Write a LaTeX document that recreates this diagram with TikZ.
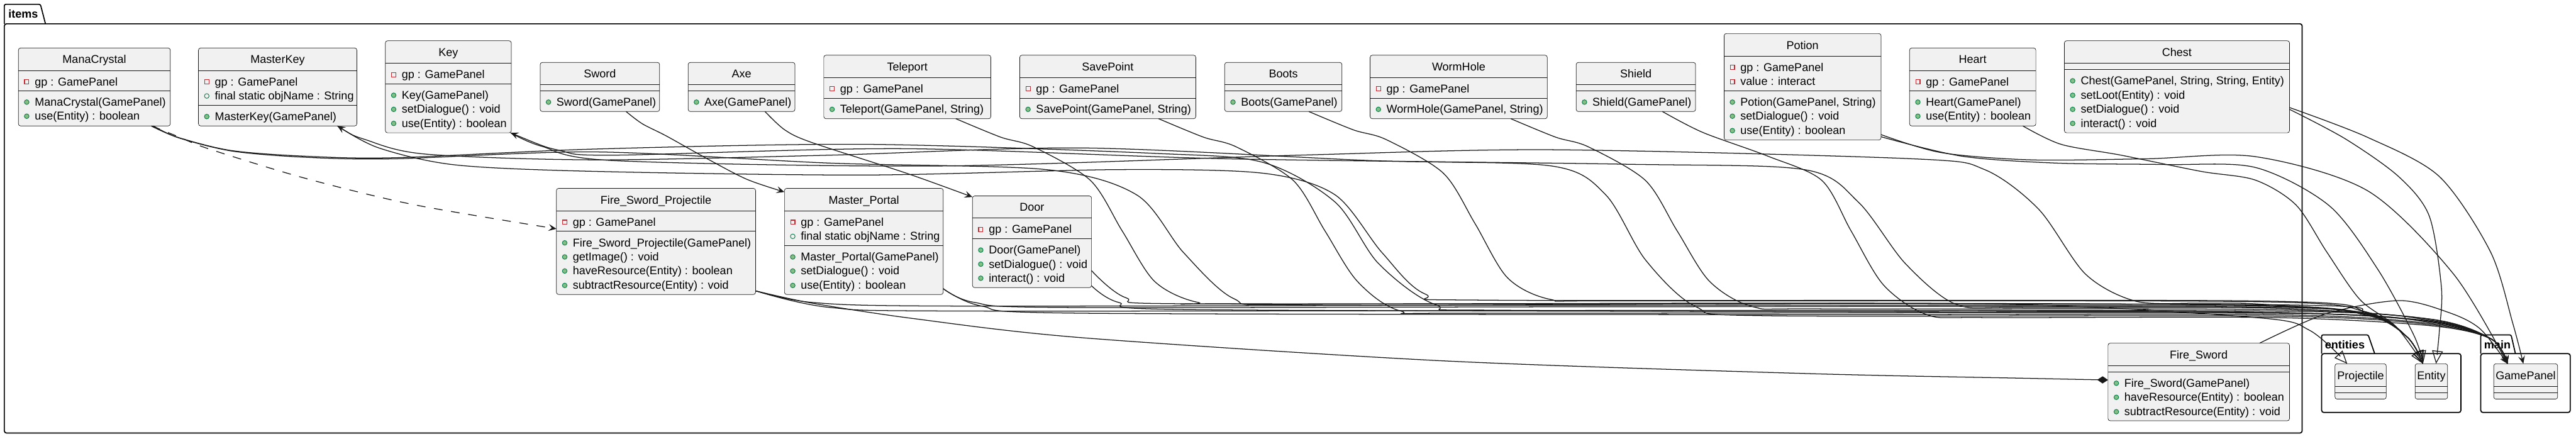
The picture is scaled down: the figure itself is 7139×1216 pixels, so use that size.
\documentclass[tikz,border=0pt]{standalone}
\usepackage{fontspec}
\setmainfont{Liberation Sans}
\usetikzlibrary{arrows.meta,calc,fit}
\definecolor{boxfill}{HTML}{F1F1F1}
\definecolor{boxline}{HTML}{181818}
\definecolor{privred}{HTML}{C82930}
\definecolor{pubfill}{HTML}{84BE84}
\definecolor{publine}{HTML}{038048}
\definecolor{edgecol}{HTML}{181818}
\newcommand\umlfont{\fontsize{15.7pt}{18pt}\selectfont}
\tikzset{
  cbox/.style={draw=boxline, fill=boxfill, line width=0.6pt, rounded corners=3pt, inner sep=0pt, outer sep=0pt},
  csep/.style={draw=boxline, line width=0.6pt},
  ctitle/.style={anchor=base, inner sep=0pt, font=\umlfont},
  mtext/.style={anchor=base west, inner sep=0pt, font=\umlfont},
  privicon/.style={rectangle, draw=privred, line width=1pt, minimum size=6pt, inner sep=0pt},
  pmicon/.style={circle, draw=publine, fill=pubfill, line width=0.8pt, minimum size=6.5pt, inner sep=0pt},
  pficon/.style={circle, draw=publine, line width=0.8pt, minimum size=6.5pt, inner sep=0pt},
  pkgline/.style={draw=black, line width=1.5pt},
  pkglabel/.style={anchor=base west, inner sep=0pt, font=\umlfont\bfseries},
  edge/.style={draw=edgecol, line width=1.1pt},
  ext/.style={edge, -{Triangle[open, length=18pt, width=15pt]}},
  assoc/.style={edge, -{Stealth[length=11pt, width=9.5pt, inset=4.5pt]}},
  assocback/.style={edge, {Stealth[length=11pt, width=9.5pt, inset=4.5pt]}-},
  depend/.style={edge, dash pattern=on 12pt off 12pt, -{Stealth[length=11pt, width=9.5pt, inset=4.5pt]}},
  compo/.style={edge, -{Diamond[length=15pt, width=10pt]}}
}
\newcommand\umlclass[8]{%
  \node[cbox, fit={(#2,#3) (#4,#5)}] (#1) {};
  \draw[csep] (#2,#6) -- (#4,#6);
  \draw[csep] (#2,#7) -- (#4,#7);
  \node[ctitle] (#1-title) at ({(#2+#4)/2},{(#3+#6)/2+12}) {#8};
}
\newcommand\umlpriv[4]{%
  \node[privicon] (#1-i) at ({#2+23},#3) {};
  \node[mtext] (#1) at ({#2+45},{#3+10.5}) {#4};
}
\newcommand\umlmeth[4]{%
  \node[pmicon] (#1-i) at ({#2+23},#3) {};
  \node[mtext] (#1) at ({#2+45},{#3+10.5}) {#4};
}
\newcommand\umlfld[4]{%
  \node[pficon] (#1-i) at ({#2+23},#3) {};
  \node[mtext] (#1) at ({#2+45},{#3+10.5}) {#4};
}
\begin{document}
\begin{tikzpicture}[x=0.5pt,y=-0.5pt]
\useasboundingbox (0,0) rectangle (7139,1216);
\fill[white] (0,0) rectangle (7139,1216);
% ---------- packages
\draw[pkgline, rounded corners=2pt] (12,66) -- (12,12) -- (112,12) -- (126,66);
\draw[pkgline, rounded corners=3pt] (12,66) rectangle (6380,1200);
\node[pkglabel] (pkg-items) at (23,50) {items};
\draw[pkgline, rounded corners=2pt] (6434,980) -- (6434,928) -- (6563,928) -- (6581,980);
\draw[pkgline, rounded corners=3pt] (6434,980) rectangle (6820,1143);
\node[pkglabel] (pkg-entities) at (6443,966) {entities};
\draw[pkgline, rounded corners=2pt] (6875,980) -- (6875,928) -- (6959,928) -- (6971,980);
\draw[pkgline, rounded corners=3pt] (6875,980) rectangle (7123,1143);
\node[pkglabel] (pkg-main) at (6884,966) {main};
% ---------- classes, top row
\umlclass{MC}{51}{133}{472}{349}{195}{252}{ManaCrystal}
\umlpriv{MC-a1}{51}{227}{gp : GamePanel}
\umlmeth{MC-m1}{51}{283}{ManaCrystal(GamePanel)}
\umlmeth{MC-m2}{51}{322}{use(Entity) : boolean}

\umlclass{MK}{550}{133}{989}{349}{195}{292}{MasterKey}
\umlpriv{MK-a1}{550}{227}{gp : GamePanel}
\umlfld{MK-a2}{550}{266}{final static objName : String}
\umlmeth{MK-m1}{550}{323}{MasterKey(GamePanel)}

\umlclass{Key}{1068}{113}{1417}{368}{175}{233}{Key}
\umlpriv{Key-a1}{1068}{207}{gp : GamePanel}
\umlmeth{Key-m1}{1068}{264}{Key(GamePanel)}
\umlmeth{Key-m2}{1068}{303}{setDialogue() : void}
\umlmeth{Key-m3}{1068}{342}{use(Entity) : boolean}

\umlclass{Sword}{1497}{173}{1828}{309}{235}{252}{Sword}
\umlmeth{Sword-m1}{1497}{283}{Sword(GamePanel)}

\umlclass{Axe}{1907}{173}{2203}{309}{235}{252}{Axe}
\umlmeth{Axe-m1}{1907}{283}{Axe(GamePanel)}

\umlclass{Teleport}{2283}{153}{2746}{329}{215}{272}{Teleport}
\umlpriv{Teleport-a1}{2283}{246}{gp : GamePanel}
\umlmeth{Teleport-m1}{2283}{303}{Teleport(GamePanel, String)}

\umlclass{SavePoint}{2826}{153}{3314}{329}{215}{272}{SavePoint}
\umlpriv{SavePoint-a1}{2826}{246}{gp : GamePanel}
\umlmeth{SavePoint-m1}{2826}{303}{SavePoint(GamePanel, String)}

\umlclass{Boots}{3394}{173}{3719}{309}{235}{252}{Boots}
\umlmeth{Boots-m1}{3394}{283}{Boots(GamePanel)}

\umlclass{WormHole}{3797}{153}{4288}{329}{215}{272}{WormHole}
\umlpriv{WormHole-a1}{3797}{246}{gp : GamePanel}
\umlmeth{WormHole-m1}{3797}{303}{WormHole(GamePanel, String)}

\umlclass{Shield}{4368}{173}{4699}{309}{235}{252}{Shield}
\umlmeth{Shield-m1}{4368}{283}{Shield(GamePanel)}

\umlclass{Potion}{4778}{93}{5213}{388}{155}{252}{Potion}
\umlpriv{Potion-a1}{4778}{187}{gp : GamePanel}
\umlpriv{Potion-a2}{4778}{226}{value : interact}
\umlmeth{Potion-m1}{4778}{283}{Potion(GamePanel, String)}
\umlmeth{Potion-m2}{4778}{322}{setDialogue() : void}
\umlmeth{Potion-m3}{4778}{362}{use(Entity) : boolean}

\umlclass{Heart}{5292}{133}{5642}{349}{195}{252}{Heart}
\umlpriv{Heart-a1}{5292}{227}{gp : GamePanel}
\umlmeth{Heart-m1}{5292}{283}{Heart(GamePanel)}
\umlmeth{Heart-m2}{5292}{322}{use(Entity) : boolean}

\umlclass{Chest}{5721}{113}{6345}{368}{175}{193}{Chest}
\umlmeth{Chest-m1}{5721}{224}{Chest(GamePanel, String, String, Entity)}
\umlmeth{Chest-m2}{5721}{264}{setLoot(Entity) : void}
\umlmeth{Chest-m3}{5721}{303}{setDialogue() : void}
\umlmeth{Chest-m4}{5721}{342}{interact() : void}
% ---------- classes, lower row
\umlclass{FSP}{1542}{522}{2094}{816}{584}{641}{Fire\_Sword\_Projectile}
\umlpriv{FSP-a1}{1542}{616}{gp : GamePanel}
\umlmeth{FSP-m1}{1542}{673}{Fire\_Sword\_Projectile(GamePanel)}
\umlmeth{FSP-m2}{1542}{712}{getImage() : void}
\umlmeth{FSP-m3}{1542}{751}{haveResource(Entity) : boolean}
\umlmeth{FSP-m4}{1542}{791}{subtractResource(Entity) : void}

\umlclass{MP}{2174}{522}{2614}{816}{584}{680}{Master\_Portal}
\umlpriv{MP-a1}{2174}{616}{gp : GamePanel}
\umlfld{MP-a2}{2174}{655}{final static objName : String}
\umlmeth{MP-m1}{2174}{712}{Master\_Portal(GamePanel)}
\umlmeth{MP-m2}{2174}{751}{setDialogue() : void}
\umlmeth{MP-m3}{2174}{791}{use(Entity) : boolean}

\umlclass{Door}{2695}{543}{3025}{797}{604}{661}{Door}
\umlpriv{Door-a1}{2695}{636}{gp : GamePanel}
\umlmeth{Door-m1}{2695}{693}{Door(GamePanel)}
\umlmeth{Door-m2}{2695}{732}{setDialogue() : void}
\umlmeth{Door-m3}{2695}{771}{interact() : void}

\umlclass{FS}{5842}{951}{6345}{1166}{1013}{1030}{Fire\_Sword}
\umlmeth{FS-m1}{5842}{1062}{Fire\_Sword(GamePanel)}
\umlmeth{FS-m2}{5842}{1101}{haveResource(Entity) : boolean}
\umlmeth{FS-m3}{5842}{1141}{subtractResource(Entity) : void}
% ---------- other packages
\umlclass{Projectile}{6471}{1008}{6613}{1106}{1071}{1088}{Projectile}
\umlclass{Entity}{6693}{1008}{6783}{1106}{1071}{1088}{Entity}
\umlclass{GamePanel}{6911}{1008}{7088}{1106}{1071}{1088}{GamePanel}
% ---------- attachment points
\coordinate (mc-o1) at ($(MC.south west)+(368,0)$);
\coordinate (mc-o2) at ($(MC.south west)+(374,0)$);
\coordinate (mc-o3) at ($(MC.south west)+(370,0)$);
\coordinate (mk-o) at ($(MK.south west)+(385,0)$);
\coordinate (key-o) at ($(Key.south east)+(-2,0)$);
\coordinate (sw-o) at ($(Sword.south west)+(238,0)$);
\coordinate (axe-o) at ($(Axe.south west)+(213,0)$);
\coordinate (tp-o) at ($(Teleport.south west)+(366,0)$);
\coordinate (sp-o) at ($(SavePoint.south west)+(385,0)$);
\coordinate (bo-o) at ($(Boots.south west)+(233,0)$);
\coordinate (wh-o) at ($(WormHole.south west)+(390,0)$);
\coordinate (sh-o) at ($(Shield.south west)+(239,0)$);
\coordinate (po-o1) at ($(Potion.north east)+(0,280)$);
\coordinate (po-o2) at ($(Potion.north east)+(0,286)$);
\coordinate (he-o) at ($(Heart.south west)+(314,0)$);
\coordinate (ch-o1) at ($(Chest.north east)+(0,185)$);
\coordinate (ch-o2) at ($(Chest.north east)+(0,190)$);
\coordinate (fsp-o) at ($(FSP.south east)+(0,-10)$);
\coordinate (fsp-in) at ($(FSP.north west)+(0,112)$);
\coordinate (mp-o) at ($(MP.south east)+(0,-16)$);
\coordinate (mp-in) at ($(MP.north west)+(0,10)$);
\coordinate (door-o1) at ($(Door.north east)+(0,207)$);
\coordinate (door-o2) at ($(Door.north east)+(0,249)$);
\coordinate (door-in) at ($(Door.north west)+(0,3)$);
\coordinate (fs-o) at ($(FS.north west)+(420,0)$);
\coordinate (fs-in) at ($(FS.north west)+(0,102)$);
\coordinate (ent-in) at ($(Entity.north west)+(22,0)$);
\coordinate (ent-in2) at ($(Entity.north west)+(58,0)$);
\coordinate (gp-in) at ($(GamePanel.north west)+(38,0)$);
\coordinate (gp-in2) at ($(GamePanel.north west)+(82,0)$);
\coordinate (prj-in) at ($(Projectile.north west)+(34,0)$);
% ---------- connectors
\draw[ext] plot[smooth] coordinates {(mc-o2) (495,382) (645,419) (850,436) (1096,440) (1650,421) (2300,452) (2900,470) (3150,540) (3280,700) (3420,828) (3600,845) (5000,846) (6250,848) (6560,872) (6672,935) (ent-in)};
\draw[assoc] plot[smooth] coordinates {(mc-o1) (491,380) (640,417) (848,433) (1096,437) (1650,413) (2400,400) (3200,425) (3500,450) (3700,560) (3820,730) (3980,845) (4200,860) (6300,862) (6740,888) (6905,940) (gp-in)};
\draw[depend] plot[smooth] coordinates {(mc-o3) (497,380) (580,413) (842,493) (1146,567) (fsp-in)};
\draw[assocback] plot[smooth] coordinates {(mk-o) (1013,387) (1179,427) (1650,443) (2300,430) (3000,410) (3800,445) (4300,460) (4450,540) (4560,720) (4700,850) (4900,875) (6300,876) (6740,900) (6905,940) (gp-in)};
\draw[ext] plot[smooth] coordinates {(mk-o) (1050,410) (1262,457) (1650,475) (2400,485) (3100,470) (3500,480) (3700,540) (3830,700) (3950,815) (4150,832) (6250,834) (6560,865) (6672,935) (ent-in)};
\draw[assocback] plot[smooth] coordinates {(key-o) (1552,417) (1700,430) (2500,412) (3400,440) (4500,455) (5000,470) (5150,560) (5280,730) (5420,843) (5600,852) (6300,854) (6740,885) (6905,940) (gp-in)};
\draw[ext] plot[smooth] coordinates {(key-o) (1500,405) (1700,445) (2600,460) (3600,430) (4300,415) (5300,440) (5500,470) (5650,580) (5780,760) (5920,835) (6100,840) (6250,842) (6560,868) (6672,935) (ent-in)};
\draw[ext] plot[smooth] coordinates {(tp-o) (2773,380) (2864,407) (3022,500) (3110,640) (3200,780) (3320,838) (3500,842) (6250,844) (6560,870) (6672,935) (ent-in)};
\draw[assoc] plot[smooth] coordinates {(sp-o) (3335,380) (3426,407) (3584,500) (3672,640) (3762,780) (3882,862) (4100,868) (6300,868) (6740,894) (6905,940) (gp-in)};
\draw[ext] plot[smooth] coordinates {(bo-o) (3751,360) (3842,387) (4000,480) (4088,620) (4178,770) (4298,830) (4500,834) (6250,836) (6560,866) (6672,935) (ent-in)};
\draw[assoc] plot[smooth] coordinates {(wh-o) (4311,380) (4402,407) (4560,500) (4648,640) (4738,780) (4858,850) (5050,856) (6300,858) (6740,885) (6905,940) (gp-in)};
\draw[assoc] plot[smooth] coordinates {(sh-o) (4719,367) (4900,433) (5049,500) (5130,640) (5220,790) (5340,872) (5500,880) (6300,880) (6740,903) (6905,940) (gp-in)};
\draw[assoc] plot[smooth] coordinates {(po-o1) (5380,423) (5629,443) (5950,440) (6250,434) (6562,529) (6800,760) (gp-in)};
\draw[ext] plot[smooth] coordinates {(po-o2) (5438,433) (5700,452) (6000,456) (6250,464) (6455,570) (6590,747) (6690,930) (ent-in)};
\draw[ext] plot[smooth] coordinates {(he-o) (5712,400) (5878,430) (6100,475) (6250,499) (6363,568) (6448,698) (6540,830) (6640,905) (ent-in)};
\draw[assoc] plot[smooth] coordinates {(ch-o1) (6560,380) (6760,489) (6902,698) (6964,897) (gp-in2)};
\draw[ext] plot[smooth] coordinates {(ch-o2) (6500,385) (6647,489) (6732,598) (6766,797) (6760,920) (ent-in2)};
\draw[ext] plot[smooth] coordinates {(fsp-o) (2250,838) (2600,848) (4000,846) (5500,842) (6250,880) (6400,915) (prj-in)};
\draw[assoc] plot[smooth] coordinates {(fsp-o) (2300,852) (2700,862) (5000,860) (6300,866) (6740,892) (6905,940) (gp-in)};
\draw[compo] plot[smooth] coordinates {(fsp-o) (2250,840) (2533,883) (3000,936) (4000,1000) (5000,1035) (5600,1048) (fs-in)};
\draw[ext] plot[smooth] coordinates {(mp-o) (2700,838) (2950,852) (4500,850) (6250,851) (6560,874) (6672,935) (ent-in)};
\draw[assoc] plot[smooth] coordinates {(mp-o) (2720,848) (3000,868) (5000,872) (6300,872) (6740,897) (6905,940) (gp-in)};
\draw[ext] plot[smooth] coordinates {(door-o1) (3120,825) (3300,842) (5000,840) (6250,846) (6560,870) (6672,935) (ent-in)};
\draw[assoc] plot[smooth] coordinates {(door-o2) (3100,838) (3300,858) (5200,864) (6300,866) (6740,890) (6905,940) (gp-in)};
\draw[assoc] plot[smooth] coordinates {(sw-o) (1780,343) (1847,377) (1960,440) (2070,497) (mp-in)};
\draw[assoc] plot[smooth] coordinates {(axe-o) (2175,360) (2250,395) (2512,480) (door-in)};
\draw[assoc] plot[smooth] coordinates {(fs-o) (6448,869) (6650,833) (6789,867) (6874,912) (gp-in)};
\end{tikzpicture}
\end{document}
